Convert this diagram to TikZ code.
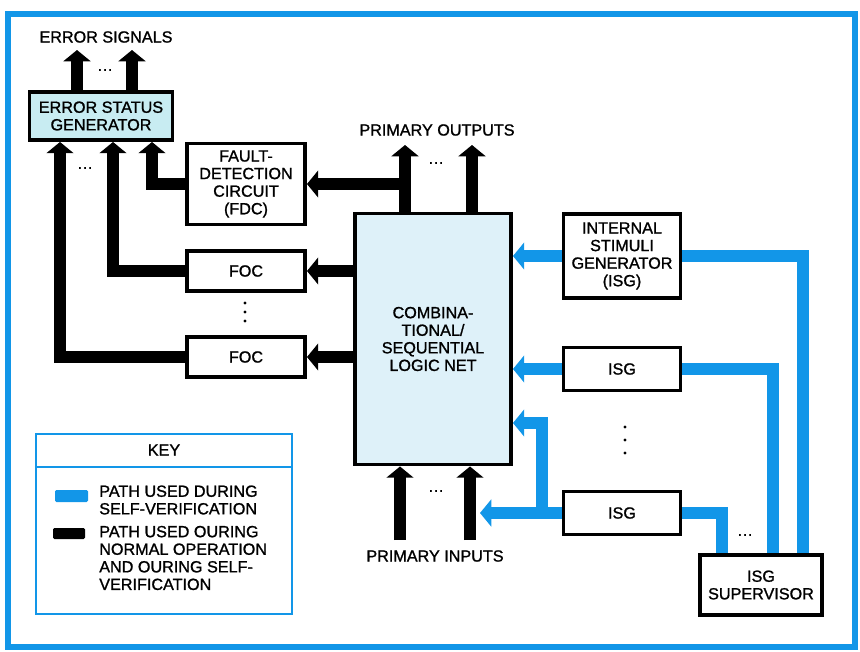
\documentclass[tikz,border=0pt]{standalone}
\usepackage{fontspec}
\setmainfont[FakeBold=1.2,AutoFakeBold=1.2]{Liberation Sans}
\usetikzlibrary{arrows.meta}

\newlength{\px}\setlength{\px}{0.025cm}

\definecolor{vblue}{RGB}{18,150,232}
\definecolor{esgfill}{RGB}{200,236,242}
\definecolor{netfill}{RGB}{222,241,249}

\tikzset{
  blockbox/.style={draw, line width=2.8pt, fill=white, align=center, inner sep=0pt},
  runbus/.style={line width=8.5pt, black, line join=miter},
  testbus/.style={line width=8.5pt, vblue, line join=miter},
  arrowtip/.style={-{Triangle[length=8pt,width=19pt]}}
}

\begin{document}
\begin{tikzpicture}[x=\px, y=-\px, font=\fontsize{11.5}{12.5}\selectfont\bfseries]
    \useasboundingbox (0,0) rectangle (860,651);

    % Outer frame
    \draw[vblue, line width=4pt] (8,14) rectangle (855,647);

    % Blocks
    \node[blockbox, fill=esgfill, minimum width=143\px, minimum height=48\px] (esg) at (101,116) {ERROR STATUS\\GENERATOR};
    \node[blockbox, minimum width=118\px, minimum height=81\px] (fdc) at (246,184) {FAULT-\\DETECTION\\CIRCUIT\\(FDC)};
    \node[blockbox, minimum width=118\px, minimum height=40\px] (foca) at (246,271) {FOC};
    \node[blockbox, minimum width=118\px, minimum height=40\px] (focb) at (246,357) {FOC};
    \node[blockbox, fill=netfill, minimum width=156\px, minimum height=251\px] (net) at (433,339) {COMBINA-\\TIONAL/\\SEQUENTIAL\\LOGIC NET};
    \node[blockbox, minimum width=117\px, minimum height=84\px] (isga) at (622,256) {INTERNAL\\STIMULI\\GENERATOR\\(ISG)};
    \node[blockbox, minimum width=117\px, minimum height=43\px] (isgb) at (622,369) {ISG};
    \node[blockbox, minimum width=117\px, minimum height=43\px] (isgc) at (622,513) {ISG};
    \node[blockbox, minimum width=122\px, minimum height=60\px] (sup) at (761,585) {ISG\\SUPERVISOR};

    % Labels
    \node (essig) at (106,37) {ERROR SIGNALS};
    \node (pout) at (437,130) {PRIMARY OUTPUTS};
    \node (pin) at (435,556) {PRIMARY INPUTS};

    % Free ends and bus columns
    \coordinate (es1) at (77,50);
    \coordinate (es2) at (132,50);
    \coordinate (po1) at (405,145);
    \coordinate (po2) at (472,145);
    \coordinate (pi1) at (400,540);
    \coordinate (pi2) at (470,540);
    \coordinate (ca) at (60,0);
    \coordinate (cb) at (113,0);
    \coordinate (cc) at (152,0);
    \coordinate (tb) at (480,0);
    \coordinate (br) at (542,423);
    \coordinate (sa) at (803,0);
    \coordinate (sb) at (773,0);
    \coordinate (sc) at (722,0);

    % Normal operation paths
    \draw[runbus, arrowtip] (esg.north -| es1) -- (es1);
    \draw[runbus, arrowtip] (esg.north -| es2) -- (es2);
    \draw[runbus, arrowtip] (net.north -| po1) -- (po1);
    \draw[runbus, arrowtip] (net.north -| po2) -- (po2);
    \draw[runbus, arrowtip] (fdc.east -| po1) -- (fdc.east);
    \draw[runbus, arrowtip] (net.west |- foca.east) -- (foca.east);
    \draw[runbus, arrowtip] (net.west |- focb.east) -- (focb.east);
    \draw[runbus, arrowtip] (fdc.west) -| (esg.south -| cc);
    \draw[runbus, arrowtip] (foca.west) -| (esg.south -| cb);
    \draw[runbus, arrowtip] (focb.west) -| (esg.south -| ca);
    \draw[runbus, arrowtip] (pi1) -- (net.south -| pi1);
    \draw[runbus, arrowtip] (pi2) -- (net.south -| pi2);

    % Self-verification paths
    \draw[testbus, arrowtip] (isga.west) -- (net.east |- isga.west);
    \draw[testbus, arrowtip] (isgb.west) -- (net.east |- isgb.west);
    \draw[testbus, arrowtip] (isgc.west) -- (isgc.west -| tb);
    \draw[testbus, arrowtip] (isgc.west -| br) -- (br) -- (net.east |- br);
    \draw[testbus] (isga.east) -| (sup.north -| sa);
    \draw[testbus] (isgb.east) -| (sup.north -| sb);
    \draw[testbus] (isgc.east) -| (sup.north -| sc);

    % Ellipses
    \node (eso) at (105,70) {\ldots};
    \node (ein) at (85,168) {\ldots};
    \node (pod) at (436,163) {\ldots};
    \node (pid) at (436,491) {\ldots};
    \node (svd) at (745,535) {\ldots};
    \foreach \y in {303,312,321} \fill (245,\y) circle (1.1pt);
    \foreach \y in {427,440,453} \fill (625,\y) circle (1.2pt);

    % Key
    \node[draw=vblue, line width=1.5pt, minimum width=256\px, minimum height=180\px, inner sep=0pt] (key) at (164,524) {};
    \draw[vblue, line width=1.5pt] ([yshift=-34\px]key.north west) -- ([yshift=-34\px]key.north east);
    \node (keyhead) at (164,450) {KEY};
    \fill[vblue, rounded corners=1pt] (55,490) rectangle (88,502);
    \fill[black, rounded corners=1pt] (53,528) rectangle (85,539);
    \node[anchor=west, align=left, inner sep=0pt] (keytest) at (99,500) {PATH USED DURING\\SELF-VERIFICATION};
    \node[anchor=west, align=left, inner sep=0pt] (keyrun) at (99,558) {PATH USED OURING\\NORMAL OPERATION\\AND OURING SELF-\\VERIFICATION};
\end{tikzpicture}
\end{document}
